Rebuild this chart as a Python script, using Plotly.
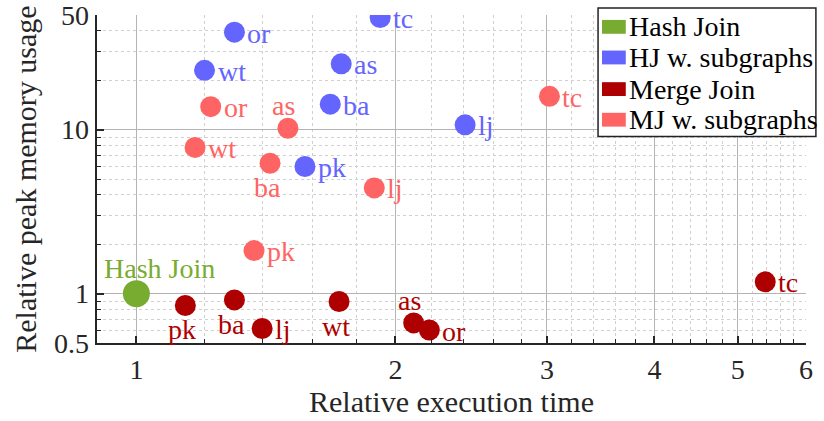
import numpy as np
import plotly.graph_objects as go

# ---- data -------------------------------------------------------------
datasets = ["or", "wt", "tc", "as", "ba", "pk", "lj"]

hash_time = [1.0]
hash_mem = [1.0]

hj_sub_time = [1.30, 1.20, 1.92, 1.73, 1.68, 1.57, 2.41]
hj_sub_mem = [39.3, 23.0, 48.2, 25.2, 14.3, 5.96, 10.7]

mj_time = [2.19, 1.72, 5.38, 2.10, 1.30, 1.14, 1.40]
mj_mem = [0.60, 0.895, 1.18, 0.663, 0.916, 0.847, 0.613]

mj_sub_time = [1.22, 1.17, 3.02, 1.50, 1.43, 1.37, 1.89]
mj_sub_mem = [13.8, 7.79, 15.96, 10.2, 6.24, 1.83, 4.41]

x_ticks = [1, 2, 3, 4, 5, 6]
y_ticks = [0.5, 1, 10, 50]
y_tick_text = ["0.5", "1", "10", "50"]

# ---- styling ----------------------------------------------------------
GREEN = "#77AC30"
BLUE = "#6464FF"
DARK_RED = "#AE0000"
LIGHT_RED = "#FF6464"
FONT = "Liberation Serif"
INK = "#262626"

W, H = 824, 421
L, R, T, B = 97, 11, 15, 74
PW, PH = W - L - R, H - T - B

series = [
    ("Hash Join", GREEN, hash_time, hash_mem, ["Hash Join"], 27),
    ("HJ w. subgraphs", BLUE, hj_sub_time, hj_sub_mem, datasets, 21),
    ("Merge Join", DARK_RED, mj_time, mj_mem, datasets, 21),
    ("MJ w. subgraphs", LIGHT_RED, mj_sub_time, mj_sub_mem, datasets, 21),
]

# label placement per series: default right of the marker
placement = {
    "HJ w. subgraphs": {},
    "Merge Join": {"pk": "b", "ba": "b", "wt": "b", "as": "t"},
    "MJ w. subgraphs": {"as": "t", "ba": "b"},
    "Hash Join": {"Hash Join": "hj"},
}

fig = go.Figure()
annotations = []
for name, color, xs, ys, labels, size in series:
    fig.add_trace(go.Scatter(
        x=xs, y=ys, mode="markers", name=name, showlegend=False,
        marker=dict(color=color, size=size, line=dict(width=0)),
        hoverinfo="skip",
    ))
    for xv, yv, lab in zip(xs, ys, labels):
        where = placement[name].get(lab, "r")
        a = dict(x=np.log10(xv), y=np.log10(yv), xref="x", yref="y",
                 text=lab, showarrow=False,
                 font=dict(family=FONT, size=28, color=color))
        if where == "r":
            a.update(xanchor="left", yanchor="middle", xshift=11, yshift=-1)
        elif where == "t":
            a.update(xanchor="center", yanchor="bottom", xshift=-4, yshift=5)
        elif where == "b":
            a.update(xanchor="center", yanchor="top", xshift=-3, yshift=-7)
        else:
            a.update(xanchor="center", yanchor="bottom", xshift=23, yshift=8)
        annotations.append(a)

# y tick labels, right-aligned just left of the axis line
for v, txt in zip(y_ticks, y_tick_text):
    annotations.append(dict(x=0, y=np.log10(v), xref="paper", yref="y",
                            text=txt, showarrow=False, xanchor="right",
                            yanchor="middle", xshift=-6,
                            font=dict(family=FONT, size=28, color=INK)))


def px_to_paper(px, py):
    return (px - L) / PW, (H - B - py) / PH


# y axis title
tx, ty = px_to_paper(24, 181)
annotations.append(dict(x=tx, y=ty, xref="paper", yref="paper",
                        text="Relative peak memory usage", textangle=-90,
                        showarrow=False, xanchor="center", yanchor="middle",
                        font=dict(family=FONT, size=30, color=INK)))

# ---- legend box drawn in paper space ----------------------------------
shapes = []
bx0, by0 = px_to_paper(603, 8)
bx1, by1 = px_to_paper(823, 138)
shapes.append(dict(type="rect", xref="paper", yref="paper",
                   x0=bx0, y0=by1, x1=bx1, y1=by0,
                   fillcolor="white", line=dict(color="#222222", width=1.5),
                   layer="above"))
row_centers = [27, 58, 90, 121]
for (name, color, *_), cy in zip(series, row_centers):
    px0, py0 = px_to_paper(607, cy - 7)
    px1, py1 = px_to_paper(631, cy + 7)
    shapes.append(dict(type="rect", xref="paper", yref="paper",
                       x0=px0, y0=py1, x1=px1, y1=py0,
                       fillcolor=color, line=dict(width=0), layer="above"))
    tx, ty = px_to_paper(632, cy)
    annotations.append(dict(x=tx, y=ty, xref="paper", yref="paper",
                            text=name, showarrow=False, xanchor="left",
                            yanchor="middle",
                            font=dict(family=FONT, size=28, color="black")))

x_minor = [v for v in np.round(np.arange(1.2, 6.0, 0.2), 1) if v not in x_ticks]
y_minor = [0.6, 0.7, 0.8, 0.9] + list(range(2, 10)) + [20, 30, 40]

fig.update_layout(
    width=W, height=H,
    margin=dict(l=L, r=R, t=T, b=B),
    paper_bgcolor="white", plot_bgcolor="white",
    font=dict(family=FONT, color=INK),
    showlegend=False,
    annotations=annotations,
    shapes=shapes,
)
fig.update_xaxes(
    type="log", range=[np.log10(0.9), np.log10(6)],
    tickmode="array", tickvals=x_ticks, ticktext=[str(v) for v in x_ticks],
    tickfont=dict(family=FONT, size=28, color=INK),
    showgrid=True, gridcolor="#B4B4B4", gridwidth=1.3,
    showline=True, linecolor=INK, linewidth=2, mirror=False,
    ticks="inside", ticklen=7, tickwidth=1.5, tickcolor=INK,
    minor=dict(tickmode="array", tickvals=x_minor, showgrid=True,
               gridcolor="#D0D0D0", griddash="dot", gridwidth=1,
               ticks="inside", ticklen=4, tickwidth=1.2, tickcolor=INK),
    zeroline=False,
    title=dict(text="Relative execution time", standoff=4,
               font=dict(family=FONT, size=30, color=INK)),
)
fig.update_yaxes(
    type="log", range=[np.log10(0.5), np.log10(50)],
    tickmode="array", tickvals=y_ticks, showticklabels=False,
    showgrid=True, gridcolor="#B4B4B4", gridwidth=1.3,
    showline=True, linecolor=INK, linewidth=2, mirror=False,
    ticks="inside", ticklen=7, tickwidth=1.5, tickcolor=INK,
    minor=dict(tickmode="array", tickvals=y_minor, showgrid=True,
               gridcolor="#D0D0D0", griddash="dot", gridwidth=1,
               ticks="inside", ticklen=4, tickwidth=1.2, tickcolor=INK),
    zeroline=False,
)

fig.write_html("out.html")
